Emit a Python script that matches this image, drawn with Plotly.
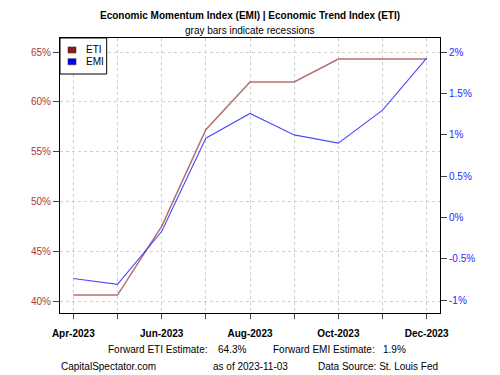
import plotly.graph_objects as go

months = ["Apr-2023", "May-2023", "Jun-2023", "Jul-2023", "Aug-2023",
          "Sep-2023", "Oct-2023", "Nov-2023", "Dec-2023"]
eti = [40.6, 40.6, 47.5, 57.2, 62.0, 62.0, 64.3, 64.3, 64.3]
emi = [-0.74, -0.81, -0.17, 0.96, 1.26, 1.00, 0.90, 1.30, 1.93]
x_tick_labels = ["Apr-2023", "", "Jun-2023", "", "Aug-2023", "", "Oct-2023", "", "Dec-2023"]
left_ticks = [40, 45, 50, 55, 60, 65]
left_labels = ["40%", "45%", "50%", "55%", "60%", "65%"]
right_ticks = [-1, -0.5, 0, 0.5, 1, 1.5, 2]
right_labels = ["-1%", "-0.5%", "0%", "0.5%", "1%", "1.5%", "2%"]
series_names = ["ETI", "EMI"]
as_of = "2023-11-03"

ETI_COL = "#8B1A1A"
EMI_COL = "#0000FF"
FONT = "Liberation Sans, Arial, sans-serif"

fig = go.Figure()
fig.add_trace(go.Scatter(x=months, y=eti, mode="lines", name=series_names[0],
                         line=dict(color="rgba(150,50,50,0.7)", width=1.5),
                         showlegend=False, yaxis="y"))
fig.add_trace(go.Scatter(x=months, y=emi, mode="lines", name=series_names[1],
                         line=dict(color="rgba(30,30,255,0.8)", width=1.1),
                         showlegend=False, yaxis="y2"))

grid = dict(gridcolor="#CFCFCF", griddash="dot", gridwidth=1)

fig.update_layout(
    width=492, height=367, autosize=False,
    margin=dict(l=52, r=60, t=30, b=62),
    paper_bgcolor="white", plot_bgcolor="white",
    font=dict(family=FONT, size=10, color="black"),
    showlegend=False,
    xaxis=dict(type="category", range=[-0.301, 8.301],
               tickmode="array", tickvals=months, ticktext=x_tick_labels,
               tickfont=dict(size=10, color="black", family=FONT, weight="bold"),
               ticks="outside", ticklen=5, tickcolor="#444", ticklabelstandoff=6,
               showline=True, linecolor="black", linewidth=1, mirror=True,
               zeroline=False, **grid),
    yaxis=dict(range=[38.80, 66.41], tickmode="array",
               tickvals=left_ticks, ticktext=left_labels,
               tickfont=dict(size=10, color="#A83A3A"),
               ticks="outside", ticklen=6, tickcolor="#444",
               showline=True, linecolor="black", linewidth=1,
               zeroline=False, **grid),
    yaxis2=dict(range=[-1.157, 2.173], overlaying="y", side="right",
                tickmode="array", tickvals=right_ticks, ticktext=right_labels,
                tickfont=dict(size=10, color="#2828FF"),
                ticks="outside", ticklen=6, tickcolor="#444",
                showline=True, linecolor="black", linewidth=1,
                showgrid=False, zeroline=False),
)

# legend drawn as a small boxed key in the top-left corner
fig.add_shape(type="rect", xref="paper", yref="paper", x0=0, x1=0.1229, y0=0.869, y1=1,
              line=dict(color="black", width=1), fillcolor="white", layer="above")
key_rows = [(0.9564, ETI_COL), (0.9138, EMI_COL)]
for (yc, col), name in zip(key_rows, series_names):
    fig.add_shape(type="rect", xref="paper", yref="paper",
                  x0=0.0211, x1=0.0421, y0=yc - 0.011, y1=yc + 0.011,
                  line=dict(color="#333", width=0.6), fillcolor=col, layer="above")
    fig.add_annotation(xref="paper", yref="paper", x=0.063, y=yc, text=name,
                       xanchor="left", yanchor="middle", showarrow=False,
                       font=dict(size=10))

ann = [
    dict(text="<b>Economic Momentum Index (EMI) | Economic Trend Index (ETI)</b>",
         x=0.5, y=1.081, xanchor="center"),
    dict(text="gray bars indicate recessions", x=0.5, y=1.026, xanchor="center"),
    dict(text="Forward ETI Estimate:", x=0.12, y=-0.131, xanchor="left"),
    dict(text=f"{eti[-1]:.1f}%", x=0.41, y=-0.131, xanchor="left"),
    dict(text="Forward EMI Estimate:", x=0.555, y=-0.131, xanchor="left"),
    dict(text=f"{emi[-1]:.1f}%", x=0.844, y=-0.131, xanchor="left"),
    dict(text="CapitalSpectator.com", x=-0.003, y=-0.196, xanchor="left"),
    dict(text=f"as of {as_of}", x=0.397, y=-0.196, xanchor="left"),
    dict(text="Data Source: St. Louis Fed", x=0.673, y=-0.196, xanchor="left"),
]
for a in ann:
    fig.add_annotation(xref="paper", yref="paper", yanchor="middle",
                       showarrow=False, font=dict(size=10), **a)

fig.write_html("out.html")
